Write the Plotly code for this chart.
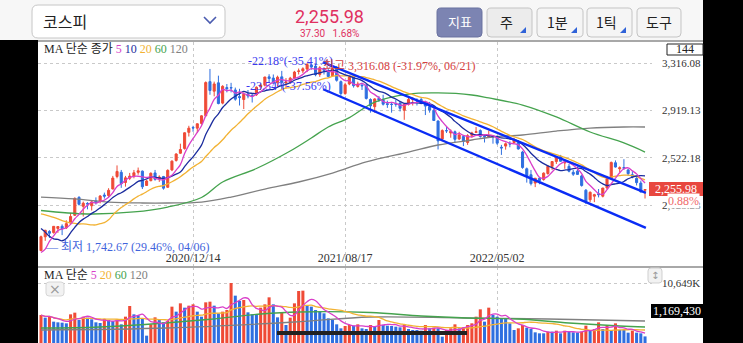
import plotly.graph_objects as go
import pandas as pd

W, H = 743, 343
def fx(x): return x / W
def fy(y): return 1 - y / H

SERIF = "Liberation Serif, Noto Sans CJK KR, serif"
KR = "Noto Sans CJK KR, sans-serif"
RED = "#ef4a36"
BLUE = "#2f6fe0"

# ---------------- data ----------------
x_tick_idx = [36, 72, 108]
x_tick_text = ["2020/12/14", "2021/08/17", "2022/05/02"]
y_tick_vals = [1728.28, 2125.23, 2522.18, 2919.13, 3316.08]
y_tick_text = ["1,728.28", "2,125.23", "2,522.18", "2,919.13", "3,316.08"]

opens = [1744, 1860, 1905, 1895, 1930, 1948, 1935, 1975, 2040, 2190,
         2115, 2140, 2120, 2160, 2155, 2210, 2205, 2260, 2365, 2400,
         2315, 2350, 2370, 2400, 2410, 2290, 2330, 2395, 2345, 2365,
         2275, 2420, 2500, 2560, 2600, 2735, 2775, 2770, 2810, 2874,
         3160, 3080, 3150, 2980, 3110, 3110, 3090, 3035, 3010, 3055,
         3045, 3050, 3115, 3130, 3200, 3190, 3150, 3200, 3150, 3160,
         3190, 3245, 3250, 3265, 3300, 3290, 3220, 3270, 3250, 3210,
         3270, 3160, 3060, 3140, 3200, 3120, 3130, 3130, 3010, 2950,
         3020, 3010, 2975, 2970, 2975, 2980, 2920, 2970, 3010, 3000,
         3010, 2990, 2950, 2920, 2830, 2680, 2750, 2730, 2740, 2680,
         2700, 2650, 2710, 2735, 2750, 2700, 2700, 2700, 2690, 2610,
         2620, 2640, 2650, 2660, 2570, 2430, 2380, 2310, 2350, 2340,
         2390, 2450, 2490, 2530, 2480, 2450, 2400, 2410, 2370, 2250,
         2170, 2200, 2220, 2200, 2270, 2350, 2480, 2430, 2440, 2420,
         2380, 2350, 2310, 2250]
highs = [1870, 1918, 1915, 1950, 1950, 1964, 1998, 2060, 2190, 2200,
         2155, 2150, 2165, 2190, 2210, 2230, 2267, 2370, 2458, 2420,
         2370, 2395, 2420, 2440, 2415, 2335, 2400, 2420, 2375, 2370,
         2425, 2500, 2560, 2640, 2735, 2790, 2790, 2810, 2878, 3162,
         3266.23, 3160, 3210, 3130, 3140, 3150, 3110, 3100, 3070, 3090,
         3060, 3120, 3145, 3200, 3222, 3220, 3210, 3250, 3190, 3200,
         3250, 3270, 3280, 3316.08, 3305, 3310, 3290, 3280, 3270, 3280,
         3290, 3170, 3150, 3210, 3210, 3160, 3150, 3140, 3020, 3020,
         3040, 3050, 3000, 2990, 3010, 3000, 2980, 3040, 3030, 3020,
         3030, 3000, 2990, 2930, 2835, 2760, 2780, 2760, 2750, 2740,
         2710, 2720, 2740, 2780, 2760, 2720, 2750, 2710, 2710, 2630,
         2650, 2660, 2690, 2670, 2580, 2440, 2420, 2350, 2360, 2400,
         2460, 2495, 2530, 2546, 2500, 2470, 2420, 2450, 2380, 2260,
         2240, 2220, 2260, 2270, 2370, 2490, 2500, 2450, 2510, 2430,
         2410, 2360, 2330, 2260]
lows = [1742.67, 1826, 1850, 1886, 1893, 1874, 1925, 1968, 2035, 2122,
        2030, 2090, 2080, 2130, 2140, 2180, 2195, 2258, 2350, 2270,
        2280, 2335, 2350, 2380, 2260, 2288, 2325, 2330, 2320, 2255,
        2270, 2410, 2490, 2555, 2590, 2700, 2740, 2730, 2800, 2869,
        3050, 3037, 2970, 2970, 3070, 3070, 3000, 2960, 2930, 3020,
        2985, 3040, 3090, 3120, 3150, 3140, 3120, 3090, 3100, 3140,
        3180, 3220, 3230, 3240, 3260, 3205, 3200, 3220, 3200, 3200,
        3160, 3040, 3050, 3130, 3110, 3110, 3090, 3010, 2900, 2900,
        2990, 2960, 2940, 2900, 2950, 2910, 2840, 2960, 2960, 2960,
        2970, 2880, 2900, 2830, 2591.53, 2660, 2730, 2690, 2650, 2670,
        2620, 2630, 2690, 2730, 2690, 2650, 2690, 2640, 2630, 2546,
        2590, 2610, 2640, 2590, 2430, 2314, 2290, 2276, 2300, 2330,
        2380, 2420, 2470, 2490, 2430, 2400, 2370, 2380, 2280, 2134.77,
        2150, 2150, 2190, 2190, 2260, 2340, 2440, 2400, 2420, 2370,
        2350, 2290, 2230, 2180.67]
closes = [1860.70, 1914.53, 1889.01, 1947.56, 1945.82, 1927.28, 1970.13, 2029.60, 2181.87, 2132.30,
          2141.05, 2134.65, 2152.41, 2150.25, 2201.19, 2200.44, 2249.37, 2351.67, 2407.49, 2304.59,
          2353.80, 2368.25, 2396.48, 2412.40, 2278.79, 2327.89, 2391.96, 2341.53, 2360.81, 2267.15,
          2416.50, 2493.87, 2553.50, 2591.34, 2731.45, 2770.06, 2772.18, 2806.86, 2873.47, 3152.18,
          3085.90, 3140.63, 2976.21, 3120.63, 3100.58, 3107.62, 3012.95, 3026.26, 3054.39, 3039.53,
          3041.01, 3112.80, 3131.88, 3198.62, 3186.10, 3147.86, 3197.20, 3153.32, 3156.42, 3188.73,
          3240.08, 3249.32, 3267.93, 3302.84, 3281.78, 3217.95, 3276.19, 3254.42, 3202.32, 3270.36,
          3171.29, 3060.51, 3133.90, 3201.06, 3125.76, 3140.51, 3125.24, 3019.18, 2956.30, 3015.06,
          3006.16, 2970.68, 2969.27, 2968.80, 2971.02, 2936.44, 2968.33, 3010.23, 3017.73, 2998.17,
          2977.65, 2954.89, 2921.92, 2834.29, 2663.34, 2750.26, 2747.71, 2744.52, 2676.76, 2713.43,
          2661.28, 2707.49, 2729.98, 2739.85, 2700.39, 2696.06, 2704.71, 2695.05, 2644.51, 2604.24,
          2639.29, 2638.05, 2670.65, 2595.87, 2440.93, 2366.60, 2305.42, 2350.61, 2330.98, 2393.14,
          2451.50, 2490.80, 2527.94, 2492.69, 2481.03, 2409.41, 2384.28, 2382.78, 2290.00, 2155.49,
          2232.84, 2212.55, 2213.12, 2268.40, 2348.80, 2483.16, 2444.48, 2437.86, 2434.33, 2389.04,
          2360.02, 2313.69, 2236.40, 2255.98]
# weekly closes preceding the visible window (for the short moving averages)
warmup_closes = [2087.96, 2081.85, 2170.25, 2204.18, 2204.21, 2176.46, 2206.39, 2250.57, 2246.13,
                 2119.01, 2211.95, 2243.59, 2162.84, 1987.01, 2040.22, 1771.44, 1566.15, 1717.73, 1725.44]

# long moving averages (candle index, value)
ma60_idx = [0, 11, 22, 30, 38, 43, 51, 59, 64, 68, 73, 79, 87, 94, 102, 106, 114, 122, 130, 138, 143]
ma60_val = [2080, 2051, 2068, 2109, 2189, 2319, 2432, 2579, 2688, 2780, 2859, 2989, 3056, 3065,
            3048, 3023, 2964, 2864, 2738, 2646, 2570]
ma120_idx = [0, 8, 16, 24, 30, 38, 45, 53, 61, 69, 77, 87, 94, 102, 107, 114, 122, 130, 138, 143]
ma120_val = [2193, 2177, 2151, 2143, 2143, 2151, 2193, 2260, 2319, 2394, 2487, 2570, 2629, 2671,
             2696, 2713, 2746, 2771, 2780, 2780]

# trend channel (candle index, price)
chan_idx = [66.8, 143.2]
chan_upper = [3321, 2227]
chan_lower = [3096, 1935]

volumes = [4970, 4497, 4674, 3787, 3668, 3609, 3491, 5089, 5384, 4083,
           4674, 4497, 4201, 3668, 3550, 4260, 4083, 3905, 4083, 3313,
           4674, 6568, 5089, 4851, 4379, 1302, 3313, 4556, 4260, 3668,
           3905, 6449, 5562, 7041, 6272, 6627, 6864, 5562, 4674, 7219,
           7337, 6627, 5266, 5562, 5858, 10649, 8402, 7455, 7632, 5444,
           5089, 5089, 6272, 6864, 8106, 6864, 4556, 5384, 3195, 4497,
           7041, 9230, 9289, 6627, 6449, 5858, 5562, 5266, 4379, 4083,
           3313, 2604, 3018, 3195, 3077, 3313, 2604, 2485, 3195, 3018,
           4083, 3195, 3077, 3018, 2899, 2781, 3195, 2485, 2308, 2308,
           2189, 3195, 2604, 2722, 2604, 1124, 2308, 2604, 3313, 2604,
           2722, 3195, 3491, 4674, 5976, 3787, 6272, 4970, 4674, 4379,
           4260, 3491, 2308, 2604, 3195, 2722, 2485, 1893, 1716, 1716,
           2012, 2012, 2189, 1716, 2189, 2012, 1893, 1834, 2012, 3077,
           2189, 2485, 3668, 2485, 3077, 2308, 3491, 2308, 2308, 1834,
           2189, 1834, 1716, 1169]
vma60_idx = [0, 14, 38, 52, 61, 78, 90, 101, 113, 125, 137, 143]
vma60_val = [2662, 2840, 4082, 5147, 5502, 5413, 4792, 4437, 4260, 3550, 3017, 2840]
vma120_idx = [0, 30, 60, 78, 100, 120, 143]
vma120_val = [2307, 2662, 3727, 4615, 4437, 4260, 3905]

# ---------------- derived ----------------
n = len(closes)
idx = list(range(n))
full = pd.Series(warmup_closes + closes)
ma5 = full.rolling(5).mean().iloc[-n:].tolist()
ma10 = full.rolling(10).mean().iloc[-n:].tolist()
ma20 = full.rolling(20).mean().iloc[-n:].tolist()
vs = pd.Series(volumes)
vma5 = vs.rolling(5, min_periods=1).mean().tolist()
vma20 = vs.rolling(20, min_periods=1).mean().tolist()
vcolors = [RED] + [RED if volumes[i] > volumes[i - 1] else BLUE for i in range(1, n)]

C_MA5, C_MA10, C_MA20, C_MA60, C_MA120 = "#d93fc9", "#1b2c9e", "#f2b233", "#45a34e", "#808080"

fig = go.Figure()
fig.add_trace(go.Scatter(x=ma120_idx, y=ma120_val, mode="lines", line=dict(color=C_MA120, width=1.3, shape="spline")))
fig.add_trace(go.Scatter(x=ma60_idx, y=ma60_val, mode="lines", line=dict(color=C_MA60, width=1.3, shape="spline")))
fig.add_trace(go.Scatter(x=idx, y=ma20, mode="lines", line=dict(color=C_MA20, width=1.3, shape="spline")))
fig.add_trace(go.Scatter(x=idx, y=ma10, mode="lines", line=dict(color=C_MA10, width=1.3, shape="spline")))
fig.add_trace(go.Candlestick(x=idx, open=opens, high=highs, low=lows, close=closes,
                             increasing=dict(line=dict(color=RED, width=1), fillcolor=RED),
                             decreasing=dict(line=dict(color=BLUE, width=1), fillcolor=BLUE),
                             whiskerwidth=0))
fig.add_trace(go.Scatter(x=idx, y=ma5, mode="lines", line=dict(color=C_MA5, width=1.3, shape="spline")))
fig.add_trace(go.Scatter(x=chan_idx, y=chan_upper, mode="lines", line=dict(color="#0a2cf5", width=2.4)))
fig.add_trace(go.Scatter(x=chan_idx, y=chan_lower, mode="lines", line=dict(color="#0a2cf5", width=2.4)))

fig.add_trace(go.Bar(x=idx, y=volumes, marker=dict(color=vcolors, line=dict(width=0)), width=0.72,
                     xaxis="x2", yaxis="y2"))
fig.add_trace(go.Scatter(x=vma120_idx, y=vma120_val, mode="lines", line=dict(color=C_MA120, width=1.3, shape="spline"), xaxis="x2", yaxis="y2"))
fig.add_trace(go.Scatter(x=vma60_idx, y=vma60_val, mode="lines", line=dict(color=C_MA60, width=1.3, shape="spline"), xaxis="x2", yaxis="y2"))
fig.add_trace(go.Scatter(x=idx, y=vma20, mode="lines", line=dict(color=C_MA20, width=1.3, shape="spline"), xaxis="x2", yaxis="y2"))
fig.add_trace(go.Scatter(x=idx, y=vma5, mode="lines", line=dict(color=C_MA5, width=1.3, shape="spline"), xaxis="x2", yaxis="y2"))

# axes geometry (pixels)
PL, PR = 38, 652
X0, DX = 41, 4.224
xr = [(PL - X0) / DX, (PR - X0) / DX]
py_top, py_bot, p_3316, p_1728 = 42, 267, 63, 252.5
ppp = (3316.08 - 1728.28) / (p_1728 - p_3316)
yr = [1728.28 - (py_bot - p_1728) * ppp, 3316.08 + (p_3316 - py_top) * ppp]
vpp = 10649 / (343 - 283)
vr = [0, (343 - py_bot) * vpp]

grid = dict(showgrid=True, gridcolor="#c9c9c9", griddash="dot", gridwidth=1, zeroline=False, showline=False)
tickfont = dict(family=SERIF, size=12, color="#333")
ytickfont = dict(family=SERIF, size=11, color="#333")
fig.update_layout(
    width=W, height=H, margin=dict(l=0, r=0, t=0, b=0), showlegend=False,
    paper_bgcolor="white", plot_bgcolor="white",
    xaxis=dict(domain=[fx(PL), fx(PR)], range=xr, anchor="y", tickmode="array", tickvals=x_tick_idx,
               ticktext=x_tick_text, ticks="", ticklabelposition="inside", tickfont=tickfont,
               rangeslider=dict(visible=False), **grid),
    xaxis2=dict(domain=[fx(PL), fx(PR)], range=xr, anchor="y2", matches="x", tickmode="array",
                tickvals=x_tick_idx, showticklabels=False, ticks="", **grid),
    yaxis=dict(domain=[fy(py_bot), fy(py_top)], range=yr, side="right", anchor="x", tickmode="array",
               tickvals=y_tick_vals, ticktext=y_tick_text, ticks="", tickfont=ytickfont,
               ticklabelstandoff=9, **grid),
    yaxis2=dict(domain=[0, fy(py_bot)], range=vr, side="right", anchor="x2", tickmode="array",
                tickvals=[10649], ticktext=["10,649K"], ticks="", tickfont=ytickfont,
                ticklabelstandoff=9, **grid),
)

def rr(x0, y0, x1, y1, r):
    p = lambda x, y: f"{fx(x):.5f},{fy(y):.5f}"
    return (f"M{p(x0+r,y0)} L{p(x1-r,y0)} Q{p(x1,y0)} {p(x1,y0+r)} L{p(x1,y1-r)} Q{p(x1,y1)} {p(x1-r,y1)} "
            f"L{p(x0+r,y1)} Q{p(x0,y1)} {p(x0,y1-r)} L{p(x0,y0+r)} Q{p(x0,y0)} {p(x0+r,y0)} Z")

def rect(x0, y0, x1, y1, fill, line=None, lw=0):
    fig.add_shape(type="rect", xref="paper", yref="paper", x0=fx(x0), x1=fx(x1), y0=fy(y1), y1=fy(y0),
                  fillcolor=fill, line=dict(color=line or fill, width=lw), layer="above")

def txt(x, y, s, size=12, color="#333", family=SERIF, xanchor="left", bg=None):
    fig.add_annotation(x=fx(x), y=fy(y), xref="paper", yref="paper", text=s, showarrow=False,
                       font=dict(family=family, size=size, color=color), xanchor=xanchor, yanchor="middle",
                       bgcolor=bg, borderpad=0)

# frame: black side strips, top bar
rect(0, 0, 743, 40, "#f7f7f7")
rect(0, 40, 38, 343, "black")
rect(703, 0, 743, 343, "black")
fig.add_shape(type="line", xref="paper", yref="paper", x0=fx(38), x1=fx(703), y0=fy(41), y1=fy(41),
              line=dict(color="#a8a8a8", width=2))
fig.add_shape(type="line", xref="paper", yref="paper", x0=fx(38), x1=fx(703), y0=fy(267), y1=fy(267),
              line=dict(color="#a8a8a8", width=2))

# header
fig.add_shape(type="path", xref="paper", yref="paper", path=rr(32, 5, 225, 38, 6), fillcolor="white",
              line=dict(color="#c6c6c6", width=1))
txt(42, 21, "코스피", size=16, color="#222", family=KR)
fig.add_shape(type="path", xref="paper", yref="paper",
              path=f"M{fx(204):.5f},{fy(17):.5f} L{fx(210):.5f},{fy(23):.5f} L{fx(216):.5f},{fy(17):.5f}",
              line=dict(color="#4b5cb0", width=1.6))
txt(329, 16, "2,255.98", size=18, color="#e0305f", family="Roboto, sans-serif", xanchor="center")
txt(329, 33, "37.30&nbsp;&nbsp;&nbsp;1.68%", size=10, color="#e0305f", family="Roboto, sans-serif", xanchor="center")
buttons = [("지표", 437, 482), ("주", 487, 532), ("1분", 537, 583), ("1틱", 587, 632), ("도구", 637, 681)]
for i, (lab, x0, x1) in enumerate(buttons):
    if i == 0:
        fig.add_shape(type="path", xref="paper", yref="paper", path=rr(x0, 8, x1, 37, 4), fillcolor="#7c84b2",
                      line=dict(color="#6a72a0", width=1))
        txt((x0 + x1) / 2, 22, lab, size=13, color="white", family=KR, xanchor="center")
    else:
        fig.add_shape(type="path", xref="paper", yref="paper", path=rr(x0, 8, x1, 37, 4),
                      fillcolor="#ececec" if i == 1 else "#f5f5f5", line=dict(color="#c4c4c4", width=1))
        txt((x0 + x1) / 2 - (3 if i < 4 else 0), 22, lab, size=14, color="#222", family=KR, xanchor="center")
        if i < 4:
            fig.add_shape(type="path", xref="paper", yref="paper",
                          path=f"M{fx(x1-12):.5f},{fy(33):.5f} L{fx(x1-6):.5f},{fy(33):.5f} L{fx(x1-6):.5f},{fy(27):.5f} Z",
                          fillcolor="#2f62d8", line=dict(width=0))

# price pane texts
C = lambda c, s: f"<span style='color:{c}'>{s}</span>"
txt(43, 49, "MA 단순 종가 " + C(C_MA5, "5") + " " + C(C_MA10, "10") + " " + C(C_MA20, "20") + " "
    + C(C_MA60, "60") + " " + C(C_MA120, "120"), size=12, color="#222")
rect(667, 44, 703, 55, "white", "#222", 1)
txt(685, 49.5, "144", size=12, color="#222", xanchor="center")
txt(247, 61, "-22.18°(-35.41%)", size=12, color="#3b3bf0")
txt(245, 86, "-23.54°(-37.56%)", size=12, color="#3b3bf0")
txt(322, 66, "최고 3,316.08 (-31.97%, 06/21)", size=12, color="#d64040")
txt(44, 246.5, "— 최저 1,742.67 (29.46%, 04/06)", size=12, color="#3f63dc")
rect(649, 182, 703, 196, "#e8473f")
txt(676, 189, "2,255.98", size=12, color="white", xanchor="center")
txt(700, 201, "0.88%", size=12, color="#f06a6a", xanchor="right", bg="white")

# volume pane texts
txt(43, 275, "MA 단순 " + C(C_MA5, "5") + " " + C(C_MA20, "20") + " " + C(C_MA60, "60") + " "
    + C(C_MA120, "120"), size=12, color="#222")
fig.add_shape(type="path", xref="paper", yref="paper", path=rr(46, 282, 64, 296, 3), fillcolor="#f2f2f2",
              line=dict(color="#d6d6d6", width=1))
txt(55, 289, "×", size=14, color="#999", family="DejaVu Sans", xanchor="center")
fig.add_shape(type="path", xref="paper", yref="paper", path=rr(648, 268, 662, 283, 3), fillcolor="#f2f2f2",
              line=dict(color="#cfcfcf", width=1))
txt(655, 275.5, "↕", size=10, color="#999", family="DejaVu Sans", xanchor="center")
rect(651, 304, 703, 318, "black")
txt(677, 311, "1,169,430", size=12, color="white", xanchor="center")
fig.add_shape(type="line", xref="paper", yref="paper", x0=fx(277), x1=fx(467), y0=fy(333), y1=fy(333),
              line=dict(color="#222", width=4))

fig.write_html("out.html")
